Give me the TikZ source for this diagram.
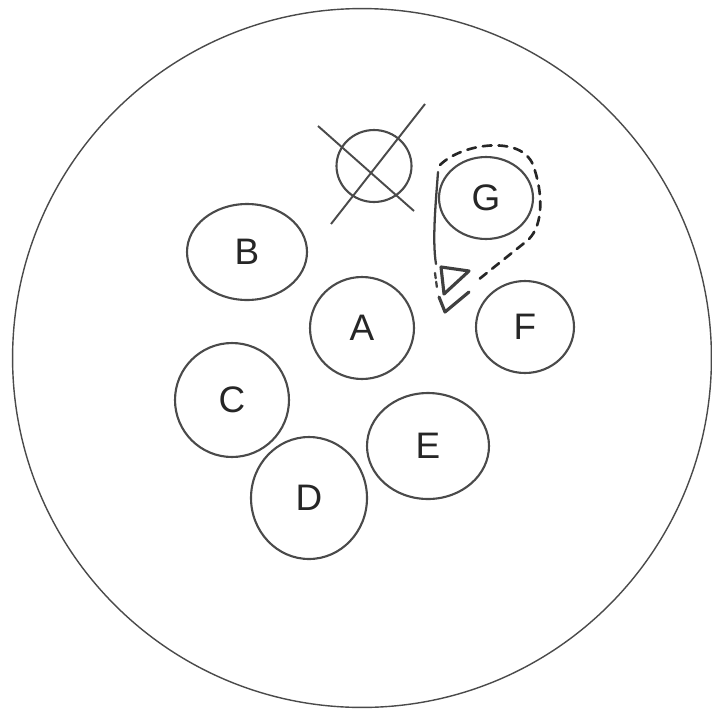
\documentclass[tikz,border=0pt]{standalone}
\usepackage{fontspec}
\setsansfont{Liberation Sans}
\usepackage{xcolor}
\usepackage{tikz}
\usetikzlibrary{shapes.geometric}

\definecolor{pencil}{HTML}{4A4A4A}

\begin{document}
\begin{tikzpicture}[
  x=0.02cm,y=-0.02cm,
  every node/.style={font=\sffamily\fontsize{21}{24}\selectfont,text=black!85},
  cell/.style={draw=pencil,ellipse,line width=1.2pt,inner sep=0pt},
  crossline/.style={draw=pencil,line width=1.1pt},
  hull/.style={draw=black!85,line width=1.5pt,dash pattern=on 5pt off 4pt,line cap=round},
  hullsolid/.style={draw=black!75,line width=1.3pt,line cap=round,line join=round}
]
\useasboundingbox (0,0) rectangle (712,710);
% dish
\node[draw=pencil,circle,line width=0.8pt,minimum size=13.98cm,inner sep=0pt] (dish) at (362,358) {};

% cells
\node[cell,minimum width=2.40cm,minimum height=1.92cm] (B) at (247,252) {B};
\node[cell,minimum width=2.08cm,minimum height=2.04cm] (A) at (362,328) {A};
\node[cell,minimum width=1.96cm,minimum height=1.84cm] (F) at (525,327) {F};
\node[cell,minimum width=2.28cm,minimum height=2.28cm] (C) at (232,400) {C};
\node[cell,minimum width=2.44cm,minimum height=2.12cm] (E) at (428,446) {E};
\node[cell,minimum width=2.32cm,minimum height=2.44cm] (D) at (309,498) {D};
\node[cell,minimum width=1.88cm,minimum height=1.64cm] (G) at (486,198) {G};

% removed cell
\node[cell,minimum width=1.50cm,minimum height=1.44cm] (gone) at (374,166) {};
\coordinate (gone nw) at (318,126);
\coordinate (gone se) at (414,211);
\coordinate (gone ne) at (425,104);
\coordinate (gone sw) at (331,224);
\draw[crossline] (gone nw) -- (gone se);
\draw[crossline] (gone ne) -- (gone sw);

% group around G with pointer
\coordinate (hull top) at (440,165);
\coordinate (hull tip) at (478,280);
\draw[hull] (hull top) .. controls (462,143) and (522,135) .. (533,165)
  .. controls (543,192) and (544,225) .. (528,240) -- (hull tip);
\draw[hullsolid] (438,172) .. controls (436,200) and (432,240) .. (436,264);
\draw[hullsolid,line width=1.8pt] (441,267) -- (469,271) -- (444,294) -- cycle;
\draw[hullsolid,line width=1.8pt] (439,297) -- (445,312) -- (469,292);
\draw[hullsolid,dash pattern=on 3pt off 2pt] (435,273) -- (437,288);
\end{tikzpicture}
\end{document}
